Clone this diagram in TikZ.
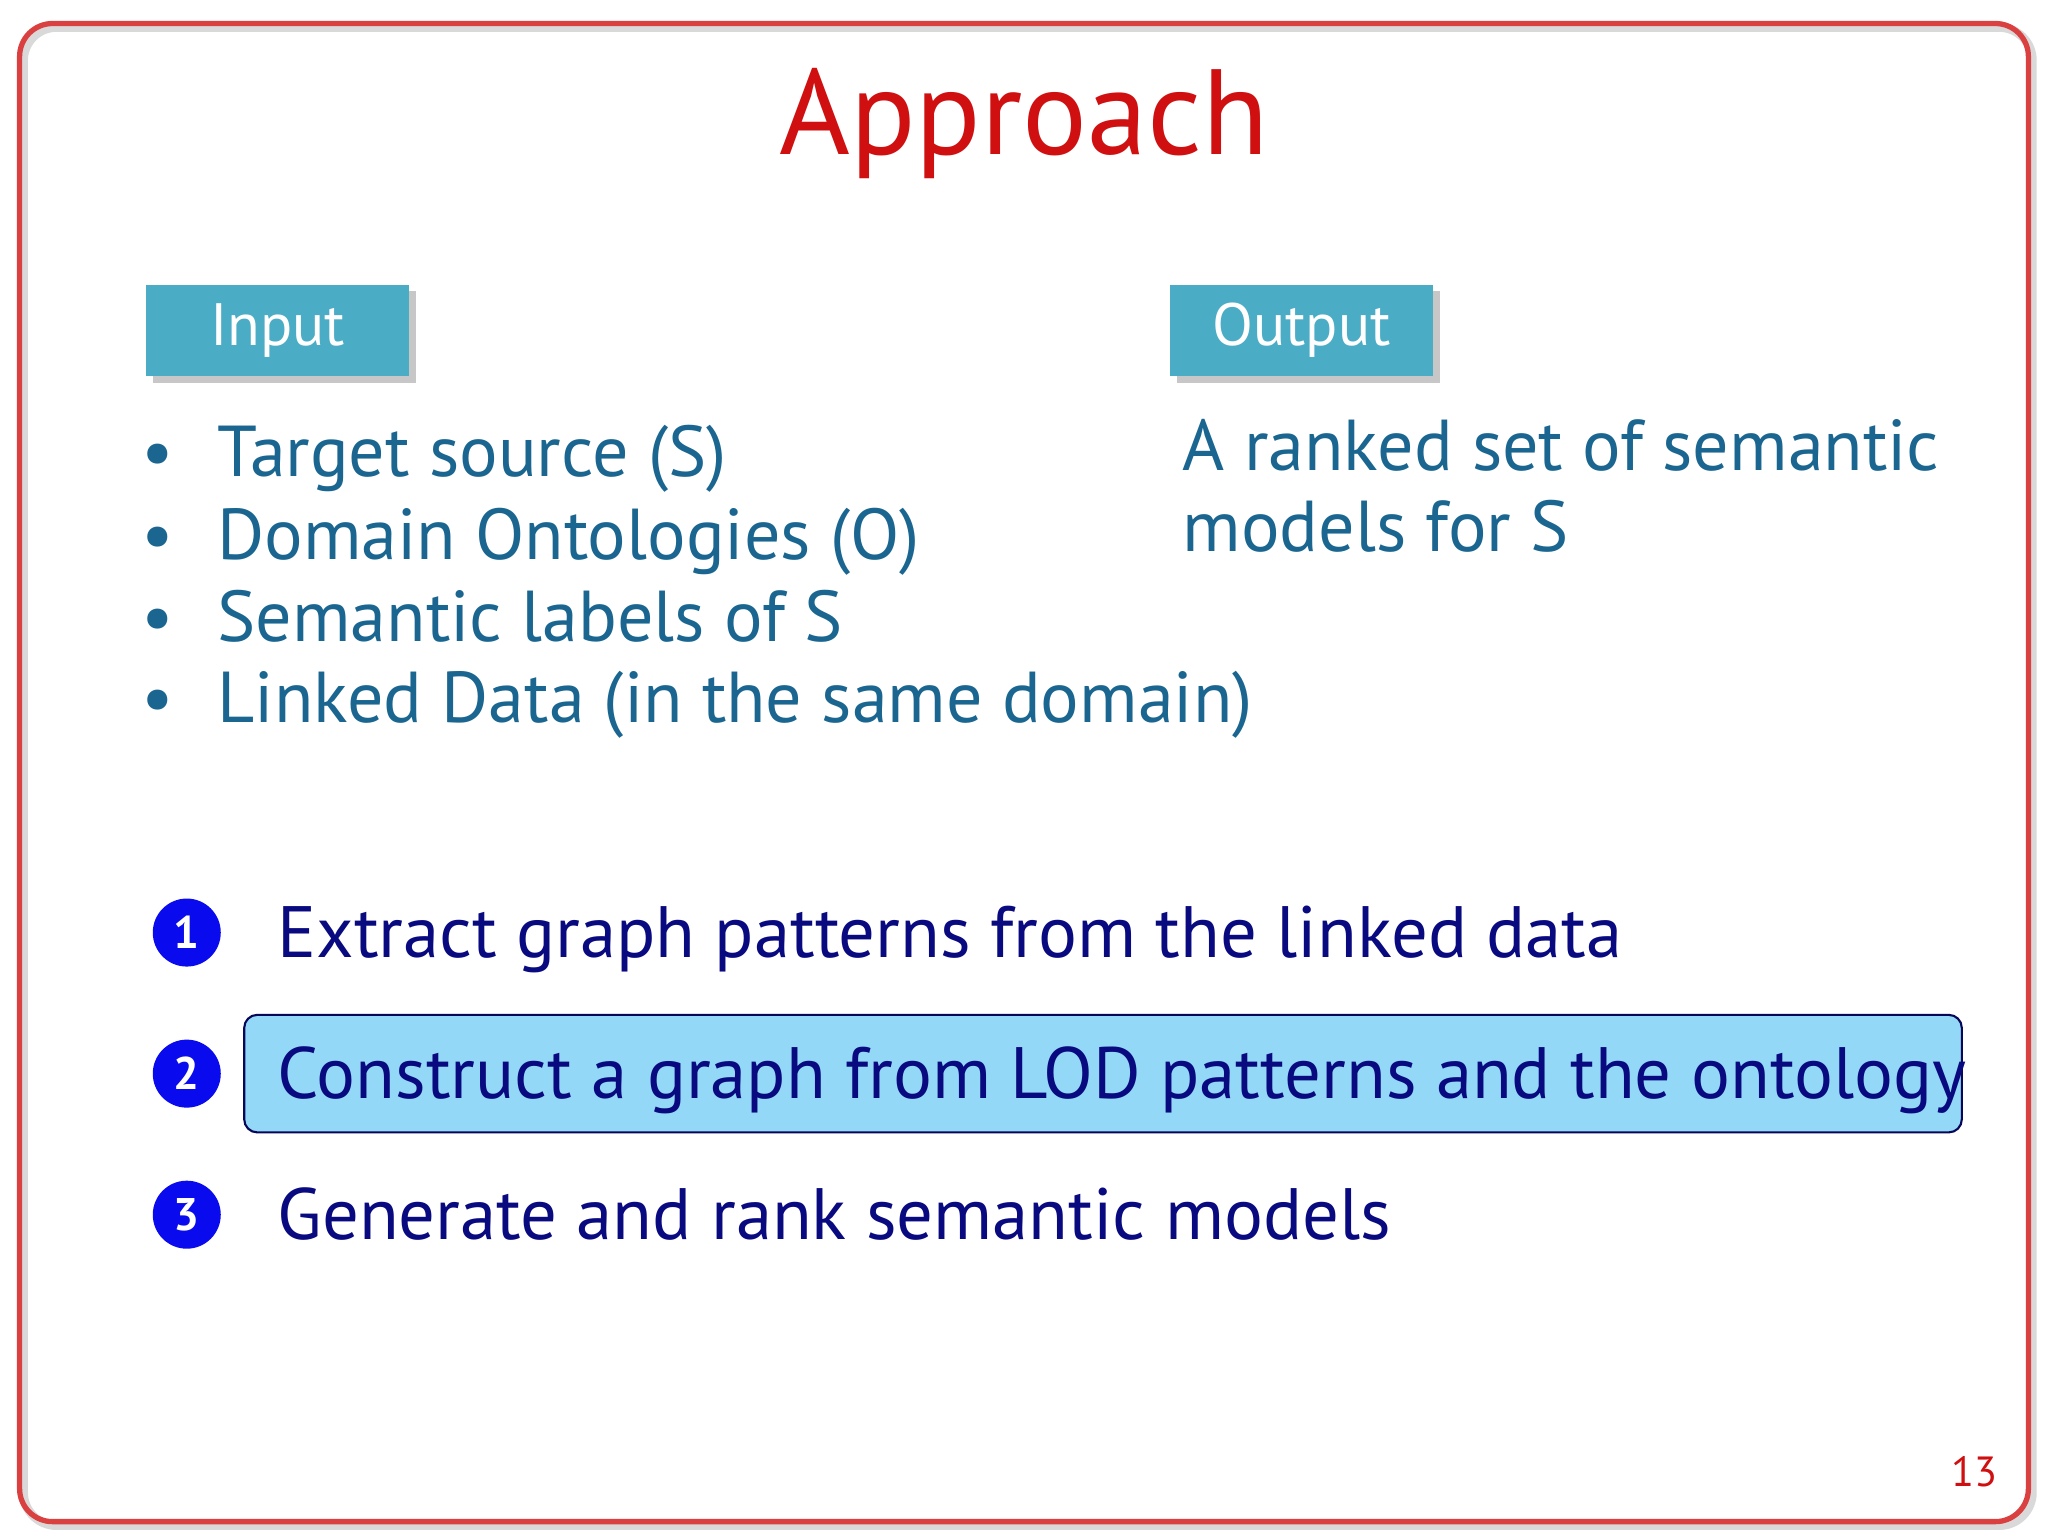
\documentclass[tikz,border=0pt]{standalone}
\usepackage{fontspec}
\setmainfont{PT Sans}
\usetikzlibrary{positioning}
\definecolor{slidered}{HTML}{D01010}
\definecolor{tabblue}{HTML}{4BACC6}
\definecolor{bullettext}{HTML}{1A6690}
\definecolor{stepnavy}{HTML}{0A0A80}
\definecolor{stepblue}{HTML}{0A0AEE}
\definecolor{highlight}{HTML}{94D8F8}
\tikzset{
  tab/.style={fill=tabblue, text=white, minimum width=2.625cm, minimum height=0.914cm,
    inner sep=0pt, font=\fontsize{17}{20}\selectfont},
  tabshadow/.style={fill=black!22, minimum width=2.625cm, minimum height=0.914cm},
  item/.style={anchor=base west, text=bullettext, inner sep=0pt,
    font=\fontsize{20.5}{25}\selectfont},
  stepnum/.style={circle, fill=stepblue, text=white, minimum size=0.68cm, inner sep=0pt,
    font=\bfseries\fontsize{13}{15}\selectfont},
  steptext/.style={anchor=base west, text=stepnavy, inner sep=0pt,
    font=\fontsize{20.7}{25}\selectfont}
}
\begin{document}
\begin{tikzpicture}[x=0.013061cm, y=-0.013061cm]
  \useasboundingbox (0,0) rectangle (1568,1176);
  \fill[white] (0,0) rectangle (1568,1176);
  % frame
  \draw[black!15, line width=2.5pt, rounded corners=0.33cm] (18,21) rectangle (1556,1168);
  \draw[slidered!80, line width=1.5pt, rounded corners=0.33cm] (15,18) rectangle (1553,1165);
  \node[text=slidered, font=\fontsize{34.5}{40}\selectfont, anchor=base] (title) at (784,118) {Approach};

  % tabs
  \node[tabshadow] at (218,258) {};
  \node[tab] (input) at (212.5,253) {Input};
  \node[tabshadow] at (1002,258) {};
  \node[tab] (output) at (996.5,253) {Output};

  % inputs
  \foreach \y/\t [count=\i] in {365/{Target source (S)}, 428/{Domain Ontologies (O)},
      491/{Semantic labels of S}, 553/{Linked Data (in the same domain)}} {
    \node[item] (bul\i) at (108,\y) {•};
    \node[item] (in\i) at (166,\y) {\t};
  }

  % output
  \node[item] (out1) at (905,360) {A ranked set of semantic};
  \node[item] (out2) at (905,422) {models for S};

  % steps
  \draw[fill=highlight, draw=stepnavy!70!black, line width=0.6pt, rounded corners=0.13cm]
    (187,777) rectangle (1502,867);
  \foreach \y/\t [count=\i] in {714/{Extract graph patterns from the linked data},
      822/{Construct a graph from LOD patterns and the ontology},
      930/{Generate and rank semantic models}} {
    \node[stepnum] (num\i) at (143,\y) {\i};
    \node[steptext] (step\i) at (212,\y+19) {\t};
  }

  \node[text=slidered, font=\fontsize{12}{14}\selectfont, anchor=base] (page) at (1512,1138) {13};
\end{tikzpicture}
\end{document}
